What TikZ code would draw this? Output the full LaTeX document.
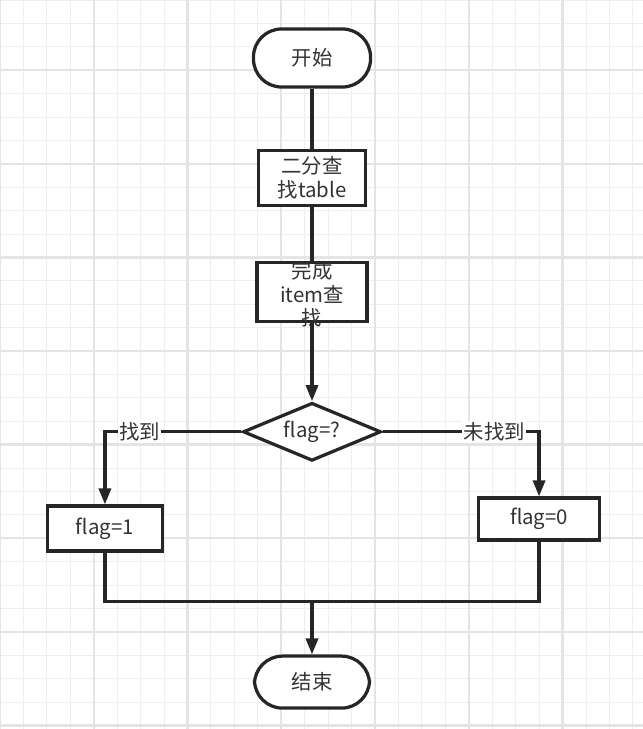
\documentclass[tikz,border=0pt]{standalone}
\usepackage{fontspec}
\setmainfont{Noto Sans CJK SC}
\usetikzlibrary{arrows.meta,positioning,shapes.geometric}
\definecolor{linegray}{HTML}{262626}
\definecolor{textgray}{HTML}{333333}
\definecolor{gridminor}{HTML}{EEEEEE}
\definecolor{gridmajor}{HTML}{E4E4E4}

\begin{document}
\begin{tikzpicture}[
    x = 0.025cm, y = 0.025cm, % one unit = one pixel of the sketch
    > = {Triangle[length=4mm,width=3mm]}, % arrow head style
    line width = 2.3pt, % line style
    color = linegray,
    text = textgray,
    font = \fontsize{14.5pt}{16.4pt}\selectfont
    ]

    \tikzset{
    terminal/.style = {draw, fill = white, rounded corners = 0.7cm,
        minimum width = 2.925cm, minimum height = 1.45cm},
    process/.style = {draw, fill = white, align = center, inner sep = 0pt},
    decision/.style = {draw, fill = white, diamond, aspect = 2.4, inner sep = 0pt,
        minimum width = 3.45cm, minimum height = 1.45cm},
    branch/.style = {fill = white, inner sep = 1pt},
    gridline/.style = {gridminor, line width = 0.7pt},
    gridbold/.style = {gridmajor, line width = 1.6pt}
    }

    \useasboundingbox (0,0) rectangle (643,-729);
    % background grid
    \foreach \k in {0,...,27} \draw[gridline] (\k*23.44,0) -- (\k*23.44,-729);
    \foreach \k in {0,...,31} \draw[gridline] (0,-\k*23.4) -- (643,-\k*23.4);
    \foreach \k in {0,4,...,24} \draw[gridbold] (\k*23.44,0) -- (\k*23.44,-729);
    \foreach \k in {3,7,...,31} \draw[gridbold] (0,-\k*23.4) -- (643,-\k*23.4);

    \node[terminal] (start) at (312,-58) {开始};
    \node[process, minimum width = 2.675cm, minimum height = 1.375cm]
        (table) [below = 1.5cm of start] {二分查\\找table};
    \node[process, minimum width = 2.75cm, minimum height = 1.475cm]
        (item) [below = 1.35cm of table]
        {\smash{\raisebox{-0.18cm}{\parbox[c]{2.6cm}{\centering 完成\\item查\\找}}}};
    \node[decision] (flag) [below = 1.95cm of item] {flag=?};
    \node[process, minimum width = 2.875cm, minimum height = 1.125cm]
        (found) [below = 1.05cm of flag, xshift = -5.175cm] {flag=1};
    \node[process, minimum width = 3.025cm, minimum height = 1.05cm]
        (notfound) [below = 0.85cm of flag, xshift = 5.675cm] {flag=0};
    \node[terminal, minimum width = 2.875cm, minimum height = 1.3cm]
        (stop) [below = 4.8cm of flag] {结束};
    \coordinate (join) at ([yshift = 1.32cm]stop.north);

    \path (start) edge (table);
    \path (table) edge (item);
    \path[->] (item) edge (flag);
    \draw[->] (flag.west) -| node[branch, pos = 0.373] {找到} (found.north);
    \draw[->] (flag.east) -| node[branch, pos = 0.357] {未找到} (notfound.north);
    \draw (found.south) |- (join) -| (notfound.south);
    \draw[->] (join) -- (stop.north);
\end{tikzpicture}
\end{document}
